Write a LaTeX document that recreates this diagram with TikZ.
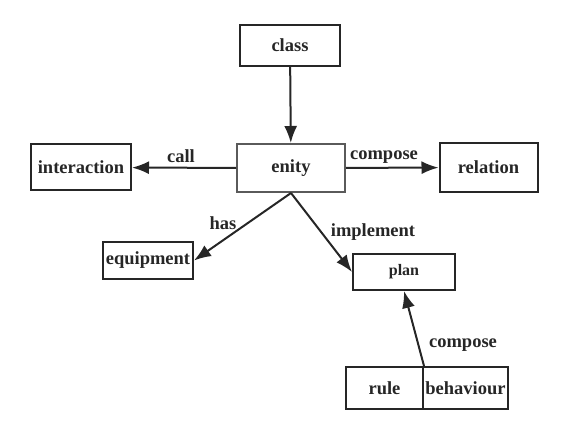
\documentclass[tikz,border=0pt]{standalone}
\usepackage{fontspec}
\setmainfont{Liberation Serif}
\usetikzlibrary{arrows.meta}
\definecolor{darkline}{RGB}{38,38,38}
\definecolor{midgrey}{RGB}{90,90,90}

\begin{document}
\begin{tikzpicture}[x=1pt,y=-1pt,
  box/.style={draw=darkline, line width=2pt, inner sep=0pt, text=darkline,
    font=\fontsize{18.5}{20}\selectfont\bfseries},
  link/.style={draw=darkline, line width=2pt, -{Latex[length=17pt,width=13pt]}},
  tag/.style={anchor=base, inner sep=0pt, text=darkline,
    font=\fontsize{18.5}{20}\selectfont\bfseries}]
\useasboundingbox (0,0) rectangle (573,435);

% Main boxes
\node[box, minimum width=100, minimum height=41] (class) at (290,45.5) {class};
\node[box, draw=midgrey, minimum width=108, minimum height=48] (enity) at (291,168) {enity};
\node[box, minimum width=100, minimum height=46] (interaction) at (81,167.5) {interaction};
\node[box, minimum width=98, minimum height=49] (relation) at (488.5,167.5) {relation};
\node[box, minimum width=90, minimum height=37] (equipment) at (148,260.5) {equipment};
\node[box, minimum width=102, minimum height=36, font=\fontsize{16}{18}\selectfont\bfseries] (plan) at (404,272) {plan};

% Split box at the bottom
\node[box, minimum width=77, minimum height=42] (rule) at (384.5,388) {rule};
\node[box, minimum width=85, minimum height=42] (behaviour) at (465.5,388) {behaviour};

% Connectors
\draw[link] (class) -- (enity);
\draw[link] (enity) -- (interaction);
\draw[link] (enity) -- (relation);
\draw[link] (enity.south) -- (equipment.east);
\draw[link] (enity.south) -- (plan.west);
\draw[link] (rule.north east) -- (plan.south);

% Connector labels
\node[tag] (callLbl) at (181,163) {call};
\node[tag] (composeTop) at (384,160) {compose};
\node[tag] (hasLbl) at (223,230) {has};
\node[tag] (implementLbl) at (373,237) {implement};
\node[tag] (composeBottom) at (463,348) {compose};
\end{tikzpicture}
\end{document}
